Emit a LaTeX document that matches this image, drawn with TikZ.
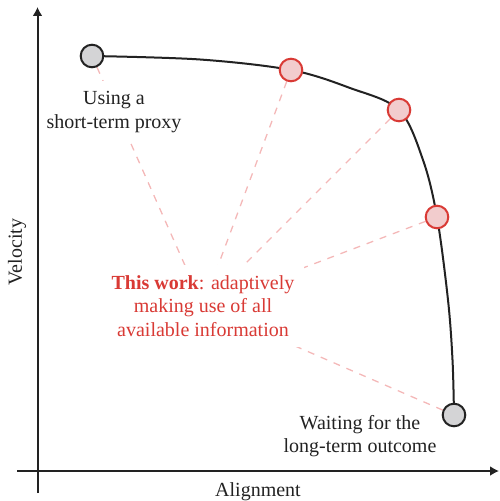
\documentclass[tikz,border=0pt]{standalone}
\usepackage{fontspec}
\setmainfont{Liberation Serif}
\usetikzlibrary{arrows.meta,backgrounds}
\definecolor{ink}{HTML}{222222}
\definecolor{redink}{HTML}{D93A35}
\definecolor{pinkfill}{HTML}{F2CCCD}
\definecolor{grayfill}{HTML}{D4D4D6}
\definecolor{dashpink}{HTML}{F4B8B8}
\begin{document}
\begin{tikzpicture}[x=0.5pt,y=-0.5pt,
  font=\fontsize{10}{11.8}\selectfont,
  graynode/.style={circle,draw=ink,fill=grayfill,line width=1pt,minimum size=11.3pt,inner sep=0pt},
  rednode/.style={circle,draw=redink,fill=pinkfill,line width=1pt,minimum size=11.3pt,inner sep=0pt},
  lbl/.style={align=center,inner sep=5pt,text=ink},
  curveline/.style={draw=ink,line width=1pt},
  dashline/.style={draw=dashpink,line width=0.65pt,dash pattern=on 3.5pt off 3.5pt},
  axisline/.style={draw=ink,line width=1pt,-{Latex[length=4.5pt,width=5pt]}}]
\useasboundingbox (0,0) rectangle (499,501);
% points
\node[graynode] (g1) at (92,56) {};
\node[rednode] (r1) at (291,70) {};
\node[rednode] (r2) at (399,110) {};
\node[rednode] (r3) at (437,217) {};
\node[graynode] (g2) at (454,415) {};
% labels
\node[lbl,fill=white] (proxy) at (114,112) {Using a\\short-term proxy};
\node[lbl,fill=white,text=redink] (tw) at (203,306) {\textbf{This work}: adaptively\\making use of all\\available information};
\node[lbl] (wait) at (360,436) {Waiting for the\\long-term outcome};
\node[text=ink,rotate=90] (vel) at (17,252) {Velocity};
\node[text=ink] (ali) at (258,492) {Alignment};
% axes
\coordinate (ybot) at (37.5,493);
\coordinate (ytop) at (37.5,7);
\coordinate (xleft) at (17,471);
\coordinate (xright) at (499,471);
\draw[axisline] (ybot) -- (ytop);
\draw[axisline] (xleft) -- (xright);
\begin{pgfonlayer}{background}
  \draw[curveline] plot[smooth,tension=0.55] coordinates {(g1.center) (200,59.5) (r1.center) (350,88) (r2.center) (423,160) (r3.center) (448,300) (452.5,360) (g2.center)};
  \draw[dashline] (g1) -- (tw.center);
  \draw[dashline] (r1) -- (tw.center);
  \draw[dashline] (r2) -- (tw.center);
  \draw[dashline] (r3) -- (tw.center);
  \draw[dashline] (g2) -- (tw.center);
\end{pgfonlayer}
\end{tikzpicture}
\end{document}
